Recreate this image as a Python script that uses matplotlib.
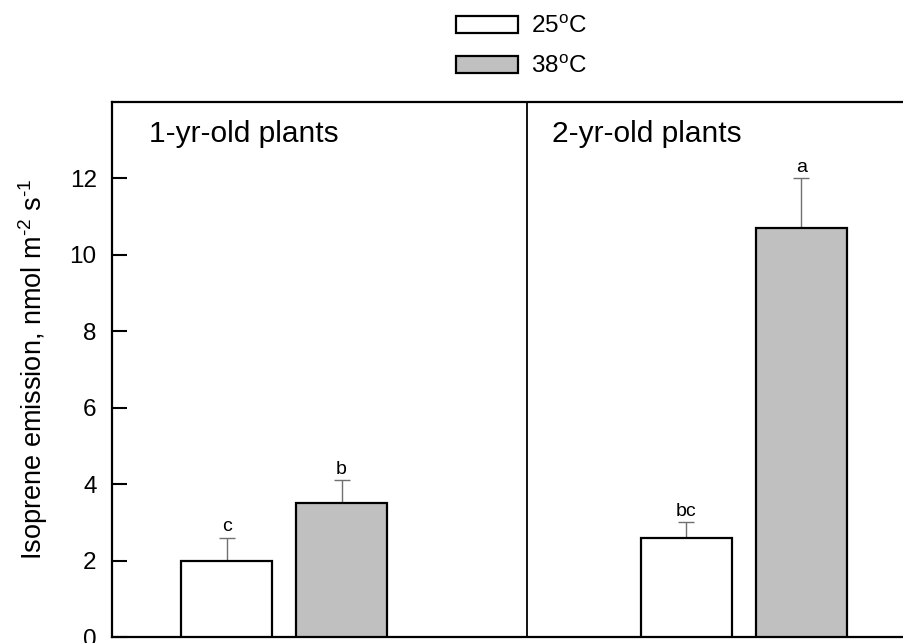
import matplotlib
matplotlib.use('Agg')
import matplotlib.pyplot as plt
import numpy as np

# data
groups = ['1-yr-old plants', '2-yr-old plants']
temps = ['25$^{\\rm o}$C', '38$^{\\rm o}$C']
mean_25 = [2.0, 2.6]
err_25 = [0.6, 0.4]
mean_38 = [3.5, 10.7]
err_38 = [0.6, 1.3]
letters_25 = ['c', 'bc']
letters_38 = ['b', 'a']

plt.rcParams['font.family'] = ['Liberation Sans', 'DejaVu Sans']
plt.rcParams['mathtext.fontset'] = 'custom'
plt.rcParams['mathtext.rm'] = 'Liberation Sans'
plt.rcParams['mathtext.it'] = 'Liberation Sans:italic'

fig = plt.figure(figsize=(9.04, 6.43), dpi=100)
ax = fig.add_axes([112 / 904, 6 / 643, 792 / 904, 535 / 643])

x = np.arange(len(groups))
w = 0.198
off = 0.125

b1 = ax.bar(x - off, mean_25, w, color='white', edgecolor='black', linewidth=1.6, zorder=3)
b2 = ax.bar(x + off, mean_38, w, color='#c0c0c0', edgecolor='black', linewidth=1.6, zorder=3)

ax.errorbar(x - off, mean_25, yerr=[np.zeros(2), err_25], fmt='none', ecolor='#707070',
            elinewidth=1.0, capsize=6, capthick=1.0, zorder=2)
ax.errorbar(x + off, mean_38, yerr=[np.zeros(2), err_38], fmt='none', ecolor='#707070',
            elinewidth=1.0, capsize=6, capthick=1.0, zorder=2)

for xi, m, e, t in zip(x - off, mean_25, err_25, letters_25):
    ax.annotate(t, (xi, m + e), xytext=(0, 2), textcoords='offset points',
                ha='center', va='bottom', fontsize=14)
for xi, m, e, t in zip(x + off, mean_38, err_38, letters_38):
    ax.annotate(t, (xi, m + e), xytext=(0, 2), textcoords='offset points',
                ha='center', va='bottom', fontsize=14)

# panel divider and titles
ax.axvline(0.528, color='black', lw=1.3)
ax.text(-0.293, 13.15, groups[0], fontsize=21.5, va='center', ha='left')
ax.text(0.583, 13.15, groups[1], fontsize=21.5, va='center', ha='left')

ax.set_xlim(-0.374, 1.348)
ax.set_ylim(0, 14)
ax.set_yticks(np.arange(0, 13, 2))
ax.set_xticks([])
ax.tick_params(axis='y', direction='in', length=10.5, width=1.5, labelsize=17.5, pad=11)
for s in ['left', 'bottom', 'top']:
    ax.spines[s].set_linewidth(1.6)
ax.spines['right'].set_visible(False)

ax.set_ylabel('Isoprene emission, nmol m$^{\\text{-2}}$ s$^{\\text{-1}}$', fontsize=19.5)
ax.yaxis.set_label_coords(-0.078, 0.5)

fig.legend([b1, b2], temps, loc='upper left', bbox_to_anchor=(456 / 904, 1 - 16 / 643),
           frameon=False, fontsize=17.5, borderpad=0, borderaxespad=0,
           handlelength=2.55, handleheight=0.66, handletextpad=0.55, labelspacing=0.72)

fig.savefig('out.png', dpi=100)
